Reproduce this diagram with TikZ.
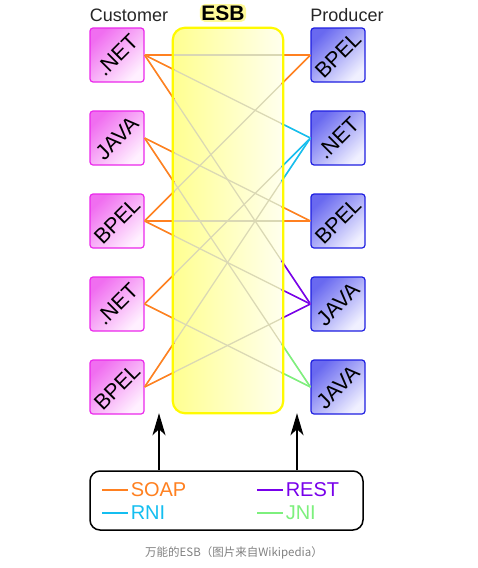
\documentclass[tikz,border=0pt]{standalone}
\usepackage{graphicx}
\usepackage{fontspec}
\setmainfont{Liberation Sans}
\newfontfamily\cjkfont{Noto Sans CJK SC}
\usetikzlibrary{calc,arrows.meta}
\definecolor{soap}{RGB}{255,128,32}
\definecolor{rni}{RGB}{20,190,240}
\definecolor{rest}{RGB}{120,0,235}
\definecolor{jni}{RGB}{125,240,125}
\definecolor{custline}{RGB}{235,40,235}
\definecolor{custdark}{RGB}{240,110,240}
\definecolor{custlight}{RGB}{255,240,255}
\definecolor{prodline}{RGB}{30,30,225}
\definecolor{proddark}{RGB}{105,105,240}
\definecolor{prodlight}{RGB}{240,240,255}
\definecolor{esbleft}{RGB}{255,255,145}
\definecolor{esbright}{RGB}{255,255,238}
\definecolor{esbborder}{RGB}{255,250,0}
\definecolor{faded}{RGB}{218,216,180}
\definecolor{captiongray}{RGB}{128,128,128}
\begin{document}
\begin{tikzpicture}[x=1pt,y=-1pt,
  boxbase/.style={line width=1.2pt, rounded corners=3pt, minimum width=54pt, minimum height=54pt, inner sep=0pt, shading angle=45},
  cust/.style={boxbase, draw=custline, top color=custdark, bottom color=custlight, shading angle=45},
  prod/.style={boxbase, draw=prodline, top color=proddark, bottom color=prodlight, shading angle=45},
  conn/.style={line width=1.2pt, draw=faded},
  endseg/.style={line width=1.6pt},
  headfont/.style={font=\fontsize{18}{18}\selectfont, text=black!85},
  legfont/.style={font=\fontsize{20}{20}\selectfont},
]
\useasboundingbox (0,0) rectangle (477,568);
% ESB body
\node[minimum width=110pt, minimum height=385pt, rounded corners=12pt, inner sep=0pt,
      left color=esbleft, right color=esbright] (esb) at (228,220.5) {};
% boxes
\foreach \i/\y/\t in {1/55/.NET,2/138/JAVA,3/221/BPEL,4/304/.NET,5/387/BPEL}{
  \node[cust] (c\i) at (117,\y) {\rotatebox{45}{\fontsize{21.5}{21.5}\selectfont\t}};
}
\foreach \i/\y/\t in {1/55/BPEL,2/138/.NET,3/221/BPEL,4/304/JAVA,5/387/JAVA}{
  \node[prod] (p\i) at (338,\y) {\rotatebox{45}{\fontsize{21.5}{21.5}\selectfont\t}};
}
% connectors
\foreach \c/\p/\col in {1/1/soap,1/2/rni,1/4/rest,2/3/soap,2/5/jni,3/1/soap,3/3/soap,3/4/rest,4/2/rni,4/5/jni,5/2/rni,5/4/rest}{
  \draw[conn] (c\c.east) -- (p\p.west);
  \draw[endseg, soap] (c\c.east) -- ($(c\c.east)!0.178!(p\p.west)$);
  \draw[endseg, \col] ($(c\c.east)!0.826!(p\p.west)$) -- (p\p.west);
}
% ESB border on top
\draw[esbborder, line width=2.2pt, rounded corners=12pt] (esb.south west) rectangle (esb.north east);
% headings
\node[headfont] (hc) at (129,15) {Customer};
\node[headfont] (hp) at (347,15) {Producer};
\node[font=\bfseries\fontsize{21}{21}\selectfont, fill=yellow!40, rounded corners=5pt, inner sep=1.5pt] (hesb) at (223,13) {ESB};
% legend
\node[draw=black, line width=1.5pt, rounded corners=10pt, minimum width=273pt, minimum height=59pt] (leg) at (226.5,500.5) {};
\coordinate (a1) at (leg.north -| 159,0);
\coordinate (a2) at (leg.north -| 297,0);
\draw[line width=1.5pt, -{Stealth[length=22pt,width=13pt,inset=6pt]}] (a1) -- (a1 |- esb.south);
\draw[line width=1.5pt, -{Stealth[length=22pt,width=13pt,inset=6pt]}] (a2) -- (a2 |- esb.south);
\coordinate (l1) at (102,490);
\coordinate (l2) at (102,513);
\coordinate (l3) at (257,490);
\coordinate (l4) at (257,513);
\draw[soap, line width=1.5pt] (l1) -- ++(26,0) node[legfont, text=soap, anchor=west, inner sep=2pt] (t1) {SOAP};
\draw[rni, line width=1.5pt] (l2) -- ++(26,0) node[legfont, text=rni, anchor=west, inner sep=2pt] (t2) {RNI};
\draw[rest, line width=1.5pt] (l3) -- ++(26,0) node[legfont, text=rest, anchor=west, inner sep=2pt] (t3) {REST};
\draw[jni, line width=1.5pt] (l4) -- ++(26,0) node[legfont, text=jni, anchor=west, inner sep=2pt] (t4) {JNI};
% caption
\node[font=\cjkfont\fontsize{11.5}{12}\selectfont, text=captiongray] (cap) at (234,553) {万能的ESB（图片来自Wikipedia）};
\end{tikzpicture}
\end{document}
